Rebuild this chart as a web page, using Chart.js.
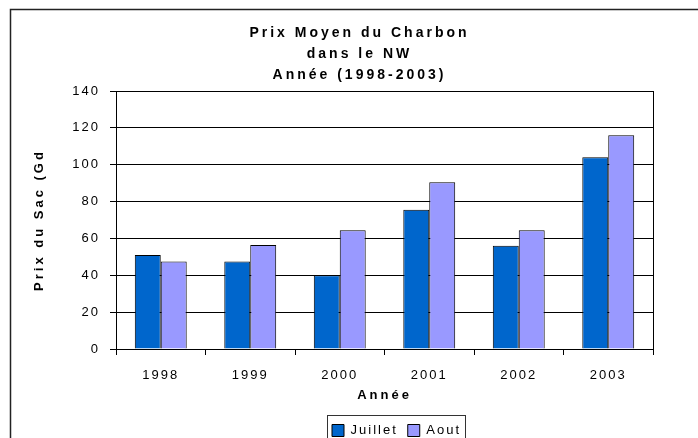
<!DOCTYPE html>
<html>
<head>
<meta charset="utf-8">
<script src="https://cdn.jsdelivr.net/npm/chart.js@4.4.1/dist/chart.umd.min.js"></script>
<style>
  html, body { margin: 0; padding: 0; background: #fff; }
  #graphic { display: block; }
</style>
</head>
<body>
<canvas id="graphic" width="698" height="438"></canvas>
<script>
// chart data
const years = ['1998', '1999', '2000', '2001', '2002', '2003'];
const juillet = [51, 47.5, 40, 75.5, 56, 104];
const aout = [47.5, 56.5, 64.5, 90.5, 64.5, 116];
const yTicks = [0, 20, 40, 60, 80, 100, 120, 140];
const titleLines = ['Prix Moyen du Charbon', 'dans le NW', 'Année (1998-2003)'];

const FONT = "'Liberation Sans', Arial, sans-serif";

// spaced-out lettering like the original, bold text a bit wider
const proto = CanvasRenderingContext2D.prototype;
['fillText', 'measureText'].forEach((fn) => {
  const orig = proto[fn];
  proto[fn] = function (...args) {
    const bold = /bold|700/.test(this.font);
    this.letterSpacing = bold ? '3px' : '2px';
    return orig.apply(this, args);
  };
});

const framePlugin = {
  id: 'frame',
  afterLayout(chart) {
    // move title and legend to where they sit in the original
    chart.titleBlock.left += 24;
    chart.titleBlock.right += 24;
    chart.legend.left += 61;
    chart.legend.right += 61;
    chart.legend.top += 9;
    chart.legend.bottom += 9;
  },
  beforeDraw(chart) {
    const { ctx, width, height } = chart;
    ctx.save();
    ctx.fillStyle = '#fff';
    ctx.fillRect(0, 0, width, height);
    ctx.strokeStyle = '#222';
    ctx.lineWidth = 1.5;
    ctx.beginPath();
    ctx.moveTo(10.5, height + 2);
    ctx.lineTo(10.5, 9.5);
    ctx.lineTo(width + 2, 9.5);
    ctx.stroke();
    ctx.restore();
  },
  afterDraw(chart) {
    const { ctx, chartArea } = chart;
    ctx.save();
    ctx.strokeStyle = '#000';
    ctx.lineWidth = 1;
    ctx.strokeRect(Math.round(chartArea.left) + 0.5, Math.round(chartArea.top) + 0.5,
      Math.round(chartArea.right - chartArea.left), Math.round(chartArea.bottom - chartArea.top));
    // legend box
    const boxes = chart.legend.legendHitBoxes;
    if (boxes && boxes.length) {
      const first = boxes[0];
      const last = boxes[boxes.length - 1];
      const x0 = Math.round(first.left - 5) + 0.5;
      const x1 = Math.round(last.left + last.width + 4) + 0.5;
      const y0 = Math.round(first.top - 9) + 0.5;
      ctx.strokeStyle = '#333';
      ctx.strokeRect(x0, y0, x1 - x0, 40);
    }
    ctx.restore();
  },
};

const ctx = document.querySelector('#graphic').getContext('2d');
const graphic = new Chart(ctx, {
  type: 'bar',
  data: {
    labels: years,
    datasets: [
      {
        label: 'Juillet',
        data: juillet,
        backgroundColor: '#0066CC',
        borderColor: '#000',
        borderWidth: 1,
      },
      {
        label: 'Aout',
        data: aout,
        backgroundColor: '#9999FF',
        borderColor: '#000',
        borderWidth: 1,
      },
    ],
  },
  options: {
    responsive: false,
    animation: false,
    devicePixelRatio: 1,
    categoryPercentage: 0.58,
    barPercentage: 1,
    layout: {
      padding: { top: 10, left: 18, right: 45, bottom: 0 },
    },
    plugins: {
      title: {
        display: true,
        text: titleLines,
        color: '#000',
        font: { family: FONT, size: 14, weight: 'bold', lineHeight: 21 / 14 },
        padding: { top: 12.5, bottom: 5.5 },
      },
      legend: {
        position: 'bottom',
        labels: {
          color: '#000',
          font: { family: FONT, size: 13 },
          boxWidth: 12,
          boxHeight: 12,
          padding: 10,
        },
      },
      tooltip: { enabled: false },
    },
    scales: {
      x: {
        afterFit: (scale) => { scale.height = 56; },
        border: { color: '#000', width: 1 },
        grid: { offset: true, drawOnChartArea: false, color: '#000', tickLength: 6 },
        ticks: { color: '#000', font: { family: FONT, size: 13 }, padding: 13 },
        title: {
          display: true,
          text: 'Année',
          color: '#000',
          font: { family: FONT, size: 13, weight: 'bold' },
          padding: { top: 0, bottom: 2 },
        },
      },
      y: {
        min: 0,
        max: 140,
        afterBuildTicks: (scale) => { scale.ticks = yTicks.map((v) => ({ value: v })); },
        afterFit: (scale) => { scale.width = 98; },
        border: { color: '#000', width: 1 },
        grid: { color: '#000', lineWidth: 1, tickLength: 6 },
        ticks: { color: '#000', font: { family: FONT, size: 13 }, padding: 10 },
        title: {
          display: true,
          text: 'Prix du Sac (Gd',
          color: '#000',
          font: { family: FONT, size: 13, weight: 'bold' },
          padding: { top: 14, bottom: 0 },
        },
      },
    },
  },
  plugins: [framePlugin],
});
graphic.render();
</script>
</body>
</html>
